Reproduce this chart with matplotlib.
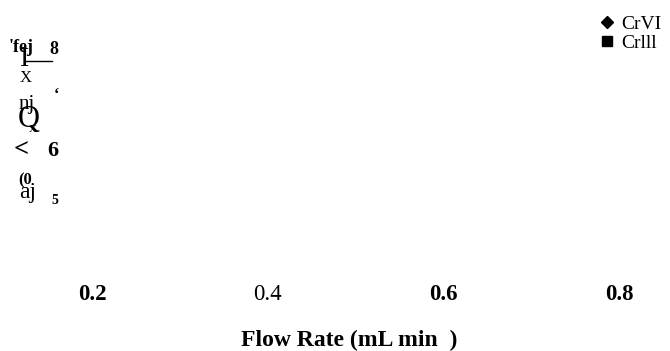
import matplotlib.pyplot as plt
from matplotlib.lines import Line2D

plt.rcParams['font.family'] = ['Liberation Serif', 'DejaVu Serif']

# axis data
flow_rates = [0.2, 0.4, 0.6, 0.8]
flow_labels = ['0.2', '0.4', '0.6', '0.8']
flow_bold = [True, False, True, True]
y_ticks = [8, 6, 5]
y_labels = ['8', '6', '5']
y_sizes = [13, 16, 10]
series = ['CrVI', 'Crlll']
series_markers = ['D', 's']

fig = plt.figure(figsize=(6.7, 3.51), dpi=100)
W, H = 670, 351
# axes placed in pixel units of the figure
left, right, top, bottom = 92, 619, 48, 199
ax = fig.add_axes([left / W, 1 - bottom / H, (right - left) / W, (bottom - top) / H])
ax.set_xlim(0.2, 0.8)
ax.set_ylim(5, 8)
for s in ax.spines.values():
    s.set_visible(False)

ax.set_xticks(flow_rates)
ax.set_xticklabels(flow_labels)
for lab, b in zip(ax.get_xticklabels(), flow_bold):
    lab.set_fontsize(16.5)
    lab.set_fontweight('bold' if b else 'normal')
ax.tick_params(axis='x', length=0, pad=61)

ax.set_yticks(y_ticks)
ax.set_yticklabels(y_labels)
for lab, sz in zip(ax.get_yticklabels(), y_sizes):
    lab.set_fontsize(sz)
    lab.set_fontweight('bold')
ax.tick_params(axis='y', length=0, pad=24)

# empty series, only shown in the legend
handles = []
for name, m in zip(series, series_markers):
    h, = ax.plot([], [], linestyle='none', marker=m, color='black',
                 markersize=6 if m == 'D' else 6.5, label=name)
    handles.append(h)
fig.legend(handles=handles, loc='upper right', bbox_to_anchor=(1.007, 0.995),
           frameon=False, fontsize=14, handlelength=0.5, handletextpad=0.45,
           labelspacing=0.05, borderaxespad=0.3)

# broken y-axis title glyphs
def px(x, y, s, **kw):
    fig.text(x / W, 1 - y / H, s, ha='left', va='center', **kw)

px(9, 48, "'fej", fontsize=13, fontweight='bold')
px(20, 60, "I", fontsize=20)
px(20, 78, "X", fontsize=12)
px(19, 104, "nj", fontsize=15)
px(18, 119, "Q", fontsize=22)
px(29, 129, "X", fontsize=8)
px(54, 95, "ʻ", fontsize=12, fontweight='bold')
px(14, 150, "<", fontsize=19, fontweight='bold')
px(18, 180, "(0", fontsize=12, fontweight='bold')
px(19, 192, "aj", fontsize=17)
fig.add_artist(Line2D([25 / W, 52 / W], [1 - 61 / H, 1 - 61 / H], color='black', lw=1))

fig.text(349 / W, 1 - 340 / H, 'Flow Rate (mL min  )', ha='center', va='center',
         fontsize=17, fontweight='bold')

fig.savefig('out.png', dpi=100)
